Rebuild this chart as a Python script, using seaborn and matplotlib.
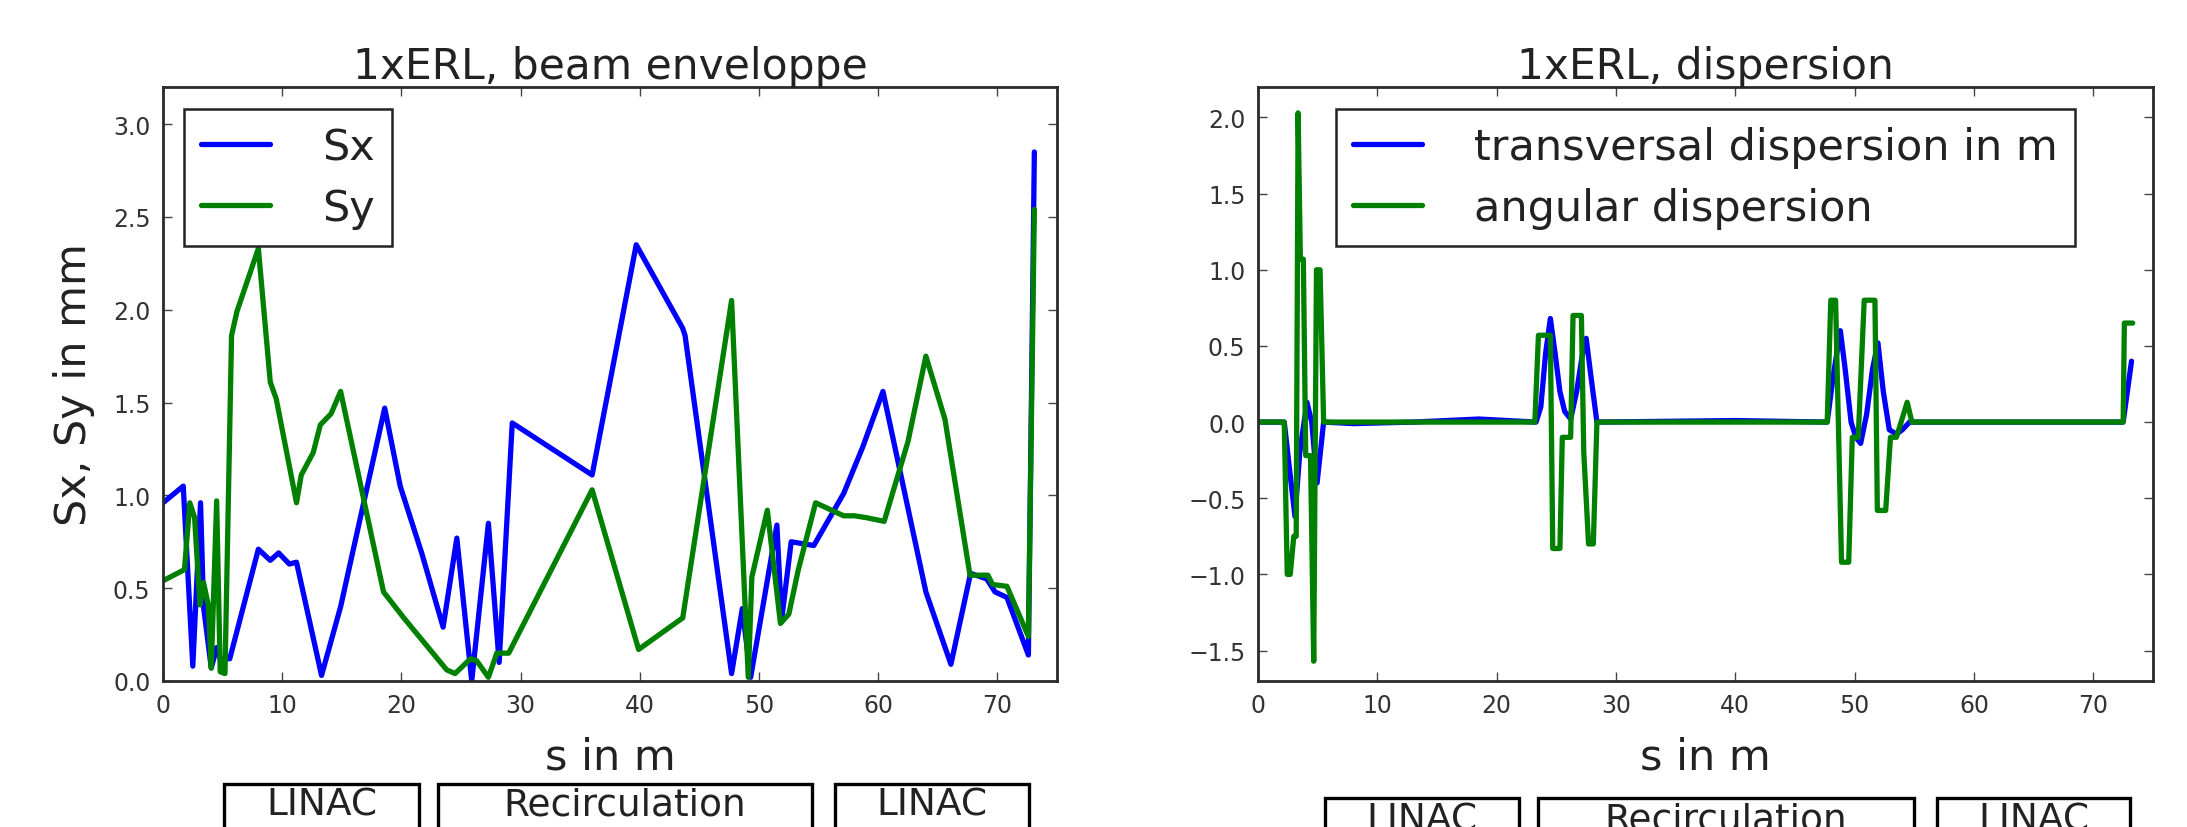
import numpy as np
import pandas as pd
import matplotlib
matplotlib.use("Agg")
import matplotlib.pyplot as plt
from matplotlib.patches import Rectangle
import seaborn as sns

# ---------------- data ----------------
sx_s = [0, 1.7, 2.5, 3.15, 3.4, 4.05, 4.5, 4.8, 5.6, 8.0, 9.0, 9.7, 10.6, 11.2, 13.3, 14.9,
        18.6, 19.9, 21.7, 23.5, 24.65, 25.9, 27.3, 28.2, 29.3, 36.0, 39.7, 43.6, 43.8, 47.7,
        48.6, 49.3, 51.5, 51.9, 52.7, 54.6, 57.1, 58.7, 60.4, 64.0, 66.1, 67.75, 69.1, 69.8,
        70.8, 72.6, 73.1]
sx_v = [0.96, 1.05, 0.08, 0.96, 0.40, 0.07, 0.18, 0.12, 0.12, 0.71, 0.65, 0.69, 0.63, 0.64,
        0.03, 0.40, 1.47, 1.05, 0.69, 0.29, 0.77, 0.0, 0.85, 0.10, 1.39, 1.11, 2.35, 1.90,
        1.86, 0.04, 0.39, 0.02, 0.84, 0.33, 0.75, 0.73, 1.01, 1.26, 1.56, 0.48, 0.09, 0.58,
        0.55, 0.48, 0.45, 0.14, 2.85]

sy_s = [0, 1.8, 2.25, 2.65, 3.1, 3.4, 3.8, 4.05, 4.5, 4.8, 5.2, 5.75, 6.2, 8.0, 9.0, 9.5,
        11.2, 11.6, 12.6, 13.2, 14.1, 14.9, 18.5, 20.2, 23.8, 24.5, 25.8, 26.3, 27.3, 28.0,
        29.0, 36.0, 39.9, 43.6, 47.7, 49.1, 49.4, 50.7, 51.8, 52.5, 53.3, 54.75, 57.1, 58.0,
        59.0, 60.5, 62.5, 64.0, 65.6, 67.7, 69.2, 69.6, 70.8, 72.6, 73.1]
sy_v = [0.54, 0.60, 0.96, 0.88, 0.41, 0.53, 0.41, 0.07, 0.97, 0.05, 0.04, 1.86, 1.99, 2.33,
        1.61, 1.52, 0.96, 1.11, 1.23, 1.38, 1.44, 1.56, 0.48, 0.34, 0.06, 0.04, 0.12, 0.11,
        0.02, 0.15, 0.15, 1.03, 0.17, 0.34, 2.05, 0.02, 0.56, 0.92, 0.31, 0.36, 0.60, 0.96,
        0.89, 0.89, 0.88, 0.86, 1.29, 1.75, 1.41, 0.57, 0.57, 0.52, 0.51, 0.24, 2.54]

dx_s = [0, 2.2, 2.7, 3.1, 3.5, 4.1, 4.5, 4.95, 5.5, 8.0, 13.0, 18.5, 23.3, 23.7, 24.1, 24.5,
        24.9, 25.3, 25.7, 26.2, 26.7, 27.2, 27.5, 27.9, 28.4, 40.0, 47.7, 48.2, 48.8, 49.2,
        49.7, 50.1, 50.5, 51.0, 51.5, 51.95, 52.4, 52.9, 53.5, 54.0, 54.6, 72.5, 73.2]
dx_v = [0, 0, -0.35, -0.62, -0.2, 0.13, 0.0, -0.4, 0, -0.01, 0.0, 0.02, 0, 0.1, 0.45, 0.68,
        0.45, 0.2, 0.07, 0.02, 0.2, 0.45, 0.55, 0.3, 0, 0.01, 0, 0.3, 0.6, 0.35, 0.0, -0.1,
        -0.14, 0.05, 0.35, 0.52, 0.2, -0.05, -0.08, -0.05, 0, 0, 0.4]

dp_s = [0, 2.2, 2.45, 2.7, 3.0, 3.2, 3.36, 3.55, 3.8, 4.0, 4.4, 4.67, 4.9, 5.2, 5.5, 23.2,
        23.5, 24.5, 24.7, 25.3, 25.5, 26.2, 26.4, 27.1, 27.3, 27.7, 28.1, 28.4, 47.7, 48.0,
        48.4, 48.9, 49.5, 49.8, 50.3, 50.8, 51.7, 51.9, 52.6, 53.0, 53.5, 54.4, 54.8, 72.5,
        72.6, 73.3]
dp_v = [0, 0, -1.0, -1.0, -0.75, -0.75, 2.03, 1.07, 1.07, -0.22, -0.22, -1.57, 1.0, 1.0, 0,
        0, 0.57, 0.57, -0.83, -0.83, -0.1, -0.1, 0.7, 0.7, -0.2, -0.8, -0.8, 0, 0, 0.8, 0.8,
        -0.92, -0.92, -0.1, -0.1, 0.8, 0.8, -0.58, -0.58, -0.1, -0.1, 0.13, 0, 0, 0.65, 0.65]

titles = ["1xERL, beam enveloppe", "1xERL, dispersion"]
xlabel = "s in m"
ylabel_left = "Sx, Sy in mm"
env_labels = ["Sx", "Sy"]
disp_labels = ["transversal dispersion in m", "angular dispersion"]
sections = ["LINAC", "Recirculation", "LINAC"]
x_ticks = [0, 10, 20, 30, 40, 50, 60, 70]
y_ticks_left = [0.0, 0.5, 1.0, 1.5, 2.0, 2.5, 3.0]
y_ticks_right = [-1.5, -1.0, -0.5, 0.0, 0.5, 1.0, 1.5, 2.0]

# ---------------- style ----------------
sns.set_theme(style="white", rc={
    "xtick.direction": "in", "ytick.direction": "in",
    "xtick.top": True, "ytick.right": True,
    "xtick.bottom": True, "ytick.left": True,
    "xtick.major.size": 6.5, "ytick.major.size": 6.5,
    "xtick.major.width": 1.0, "ytick.major.width": 1.0,
    "xtick.color": "#444444", "ytick.color": "#444444",
    "axes.edgecolor": "#2a2a2a", "axes.linewidth": 2.0,
    "axes.unicode_minus": True,
})
plt.rcParams["font.family"] = ["DejaVu Sans"]

BLUE = (0, 0, 1)
GREEN = (0, 0.5, 0)
LW = 3.8
TXT = "#222222"

fig = plt.figure(figsize=(21.87, 8.28), dpi=100)
ax1 = fig.add_axes([163 / 2187, 1 - 682 / 828, 894 / 2187, 594 / 828])
ax2 = fig.add_axes([1258 / 2187, 1 - 682 / 828, 895 / 2187, 594 / 828])

env = pd.concat([
    pd.DataFrame({"s": sx_s, "v": sx_v, "k": env_labels[0]}),
    pd.DataFrame({"s": sy_s, "v": sy_v, "k": env_labels[1]}),
])
disp = pd.concat([
    pd.DataFrame({"s": dx_s, "v": dx_v, "k": disp_labels[0]}),
    pd.DataFrame({"s": dp_s, "v": dp_v, "k": disp_labels[1]}),
])

sns.lineplot(data=env, x="s", y="v", hue="k", palette=[BLUE, GREEN], ax=ax1,
             sort=False, estimator=None, linewidth=LW, legend=True)
sns.lineplot(data=disp, x="s", y="v", hue="k", palette=[BLUE, GREEN], ax=ax2,
             sort=False, estimator=None, linewidth=LW, legend=True)

for ax, ttl in zip([ax1, ax2], titles):
    ax.set_xlim(0, 75)
    ax.set_xticks(x_ticks)
    ax.set_title(ttl, fontsize=30.5, color=TXT, pad=5)
    ax.set_xlabel(xlabel, fontsize=31, color=TXT, labelpad=13)
    ax.tick_params(axis="both", labelsize=17, labelcolor="#333333", pad=9)
    for sp in ax.spines.values():
        sp.set_visible(True)

ax1.set_ylim(0, 3.2)
ax1.set_yticks(y_ticks_left)
ax1.set_ylabel(ylabel_left, fontsize=31, color=TXT, labelpad=13)
ax2.set_ylim(-1.7, 2.2)
ax2.set_yticks(y_ticks_right)
ax2.set_ylabel("")

leg_kw = dict(loc="upper left", fontsize=31, frameon=True, fancybox=False,
              handlelength=1.6, handletextpad=1.2, labelspacing=0.43,
              borderpad=0.4, borderaxespad=0, framealpha=1)
for ax, anchor in [(ax1, (0.0235, 0.963)), (ax2, (0.087, 0.963))]:
    h, l = ax.get_legend_handles_labels()
    lg = ax.legend(h, l, bbox_to_anchor=anchor, **leg_kw)
    lg.get_frame().set_edgecolor("#222222")
    lg.get_frame().set_linewidth(1.8)
    for t in lg.get_texts():
        t.set_color(TXT)
    for ln in lg.get_lines():
        ln.set_linewidth(LW)

# ---------------- section boxes below plots ----------------
W, H = 2187, 828
left_boxes = [(224, 419), (438, 812), (835, 1029)]
right_boxes = [(1325, 1519), (1538, 1914), (1937, 2130)]
for boxes, top, cy in [(left_boxes, 785, 806), (right_boxes, 799, 821)]:
    for (x0, x1), name in zip(boxes, sections):
        fig.patches.append(Rectangle((x0 / W, 1 - (top + 80) / H), (x1 - x0) / W, 80 / H,
                                     transform=fig.transFigure, fill=False,
                                     edgecolor="black", linewidth=2.4))
        fig.text((x0 + x1) / 2 / W, 1 - cy / H, name, ha="center", va="center",
                 fontsize=27, color=TXT)

fig.savefig("out.png", dpi=100, facecolor="white")
